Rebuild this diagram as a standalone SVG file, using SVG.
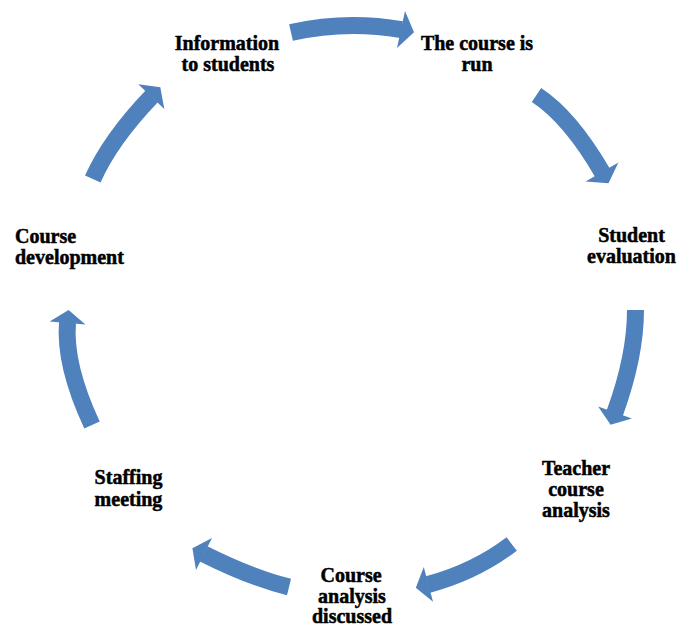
<svg xmlns="http://www.w3.org/2000/svg" width="681" height="626" viewBox="0 0 681 626">
<style>
.body{fill:none;stroke:#4F81BD;stroke-width:17;stroke-linecap:butt}
.head{fill:#4F81BD}
.lbl{font-family:"Liberation Serif","Times New Roman",serif;font-weight:bold;font-size:20px;fill:#000;stroke:#000;stroke-width:0.5;text-anchor:middle}
.lft{text-anchor:start}
</style>
<rect width="681" height="626" fill="#fff"/>
<g id="connectors">
  <path class="body" d="M291,32.5 Q346,20 401.5,29.6"/>
  <polygon class="head" points="405,10.9 414,32.3 397,48.1"/>
  <path class="body" d="M536.5,95 Q570,117 602.3,172.5"/>
  <polygon class="head" points="618.4,162.4 608.5,183.2 585.6,181.6"/>
  <path class="body" d="M635.5,310 Q635.5,356 614.8,413"/>
  <polygon class="head" points="631.9,418.6 610.6,424.7 598.1,406.4"/>
  <path class="body" d="M511.7,544 Q475,572 428,584.5"/>
  <polygon class="head" points="433,601.8 415.8,587.7 423.8,567"/>
  <path class="body" d="M289,587 Q252,578 203.6,553.8"/>
  <polygon class="head" points="212,537.9 192.4,548.2 196,570.1"/>
  <path class="body" d="M92,425 Q64,365 67.5,322.5"/>
  <polygon class="head" points="85.4,324.5 68.6,310 49.6,321.5"/>
  <path class="body" d="M92.8,179 Q110,140 151.7,96.3"/>
  <polygon class="head" points="164.3,109.1 160.3,87.3 138.3,84.3"/>
</g>
<g id="node-information">
  <text class="lbl" x="227" y="50">Information</text>
  <text class="lbl" x="228" y="70.5">to students</text>
</g>
<g id="node-course-run">
  <text class="lbl" x="477" y="50">The course is</text>
  <text class="lbl" x="477" y="70.5">run</text>
</g>
<g id="node-student-evaluation">
  <text class="lbl" x="631.5" y="241.5">Student</text>
  <text class="lbl" x="631.5" y="263">evaluation</text>
</g>
<g id="node-teacher-analysis">
  <text class="lbl" x="576" y="475">Teacher</text>
  <text class="lbl" x="576" y="496">course</text>
  <text class="lbl" x="576" y="517">analysis</text>
</g>
<g id="node-analysis-discussed">
  <text class="lbl" x="351" y="582">Course</text>
  <text class="lbl" x="352" y="602.5">analysis</text>
  <text class="lbl" x="352" y="623">discussed</text>
</g>
<g id="node-staffing">
  <text class="lbl" x="128.5" y="484">Staffing</text>
  <text class="lbl" x="128.5" y="505.5">meeting</text>
</g>
<g id="node-course-development">
  <text class="lbl lft" x="15" y="243">Course</text>
  <text class="lbl lft" x="15" y="264">development</text>
</g>
</svg>
